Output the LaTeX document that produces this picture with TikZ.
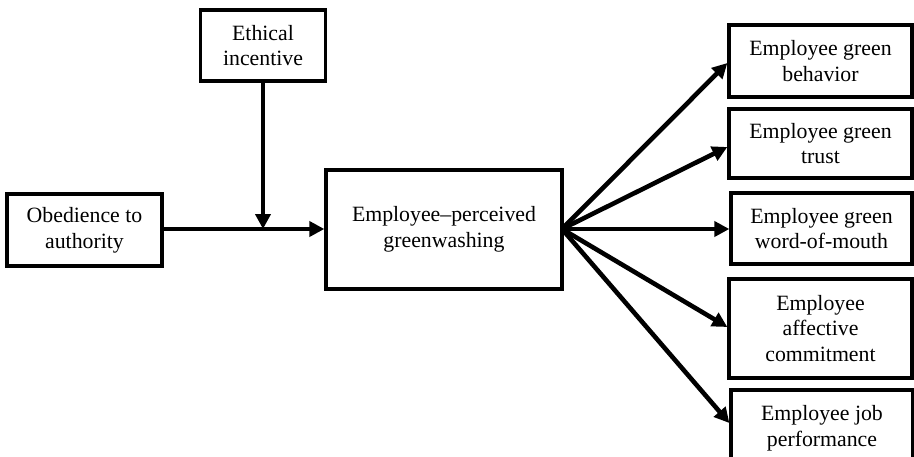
\documentclass[tikz,border=0pt]{standalone}
\usepackage{fontspec}
\setmainfont{Liberation Serif}
\usetikzlibrary{arrows.meta}
\begin{document}
\begin{tikzpicture}[x=1pt,y=-1pt,
  box/.style={draw, line width=3.3pt, align=center, inner sep=0pt,
    font=\fontsize{21.8}{25.8}\selectfont},
  arr/.style={line width=4.6pt, -{Triangle[length=15pt,width=15pt]}}]
\useasboundingbox (0,0) rectangle (914,456);
\clip (0,0) rectangle (914,456);
\node[box, minimum width=125pt, minimum height=71pt] (eth) at (263,45.5) {Ethical\\incentive};
\node[box, minimum width=155pt, minimum height=72pt] (obe) at (84.5,230) {Obedience to\\authority};
\node[box, minimum width=236pt, minimum height=119pt] (epg) at (444,229.5) {Employee–perceived\\greenwashing};
\node[box, minimum width=183pt, minimum height=72pt] (beh) at (820.5,61) {Employee green\\behavior};
\node[box, minimum width=183pt, minimum height=69pt] (tru) at (820.5,143.5) {Employee green\\trust};
\node[box, minimum width=181pt, minimum height=71pt] (wom) at (821.5,228.5) {Employee green\\word-of-mouth};
\node[box, minimum width=183pt, minimum height=99pt] (aff) at (820.5,328.5) {Employee\\affective\\commitment};
\node[box, minimum width=182pt, minimum height=72pt, text depth=0pt] (job) at (822,426) {Employee job\\performance};
\coordinate (mod) at (263,229);
\coordinate (src) at (562,229);
\draw[arr] (obe.east |- mod) -- (epg.west |- mod);
\draw[arr] (eth.south) -- (mod);
\draw[arr] (src) -- (beh.west |- 0,63);
\draw[arr] (src) -- (tru.west |- 0,147);
\draw[arr] (src) -- (wom.west |- 0,229);
\draw[arr] (src) -- (aff.west |- 0,327);
\draw[arr] (src) -- (job.west |- 0,423);
\end{tikzpicture}
\end{document}
